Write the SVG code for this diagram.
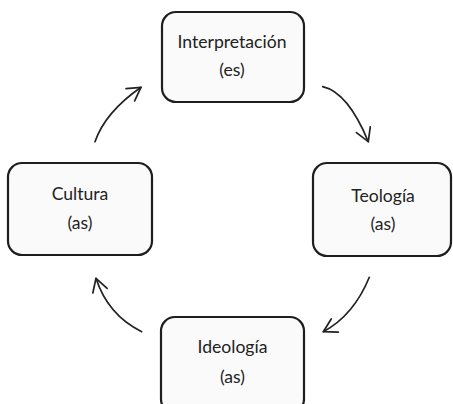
<svg xmlns="http://www.w3.org/2000/svg" width="453" height="404" viewBox="0 0 453 404">
<defs>
<style>
.box{fill:#fafafa;stroke:#1e1e1e;stroke-width:2.2}
.lbl{font-family:Lato,"Liberation Sans",sans-serif;font-size:17.6px;fill:#222;text-anchor:middle}
.arc{fill:none;stroke:#222;stroke-width:1.7;stroke-linecap:round}
</style>
<marker id="ah" viewBox="-15 -9 17 18" markerWidth="17" markerHeight="18" refX="0" refY="0" orient="auto" markerUnits="userSpaceOnUse">
<path d="M-13,-7.5 L0,0 L-13,7.5" fill="none" stroke="#222" stroke-width="1.7" stroke-linecap="round" stroke-linejoin="round"/>
</marker>
</defs>
<rect width="453" height="404" fill="#ffffff"/>
<g id="connectors">
<path class="arc" d="M322.7,86.7 Q347.9,92.4 368.3,141.7" marker-end="url(#ah)"/>
<path class="arc" d="M369.3,277.3 Q353.7,315.5 323.3,331.7" marker-end="url(#ah)"/>
<path class="arc" d="M141.7,331.7 Q107.8,315 96,278.3" marker-end="url(#ah)"/>
<path class="arc" d="M95,141.7 Q105.3,112.2 141,87.3" marker-end="url(#ah)"/>
</g>
<g id="interpretacion">
<rect class="box" x="162" y="12" width="142" height="90" rx="14"/>
<text class="lbl" x="232" y="48">Interpretación</text>
<text class="lbl" x="232" y="75.5">(es)</text>
</g>
<g id="teologia">
<rect class="box" x="313" y="163" width="138" height="93" rx="14"/>
<text class="lbl" x="383" y="201.5">Teología</text>
<text class="lbl" x="383" y="230">(as)</text>
</g>
<g id="cultura">
<rect class="box" x="8" y="163" width="144" height="92" rx="14"/>
<text class="lbl" x="80" y="200">Cultura</text>
<text class="lbl" x="80" y="229">(as)</text>
</g>
<g id="ideologia">
<rect class="box" x="161" y="317" width="143" height="96" rx="14"/>
<text class="lbl" x="232.5" y="352.7">Ideología</text>
<text class="lbl" x="232.5" y="383">(as)</text>
</g>
</svg>
